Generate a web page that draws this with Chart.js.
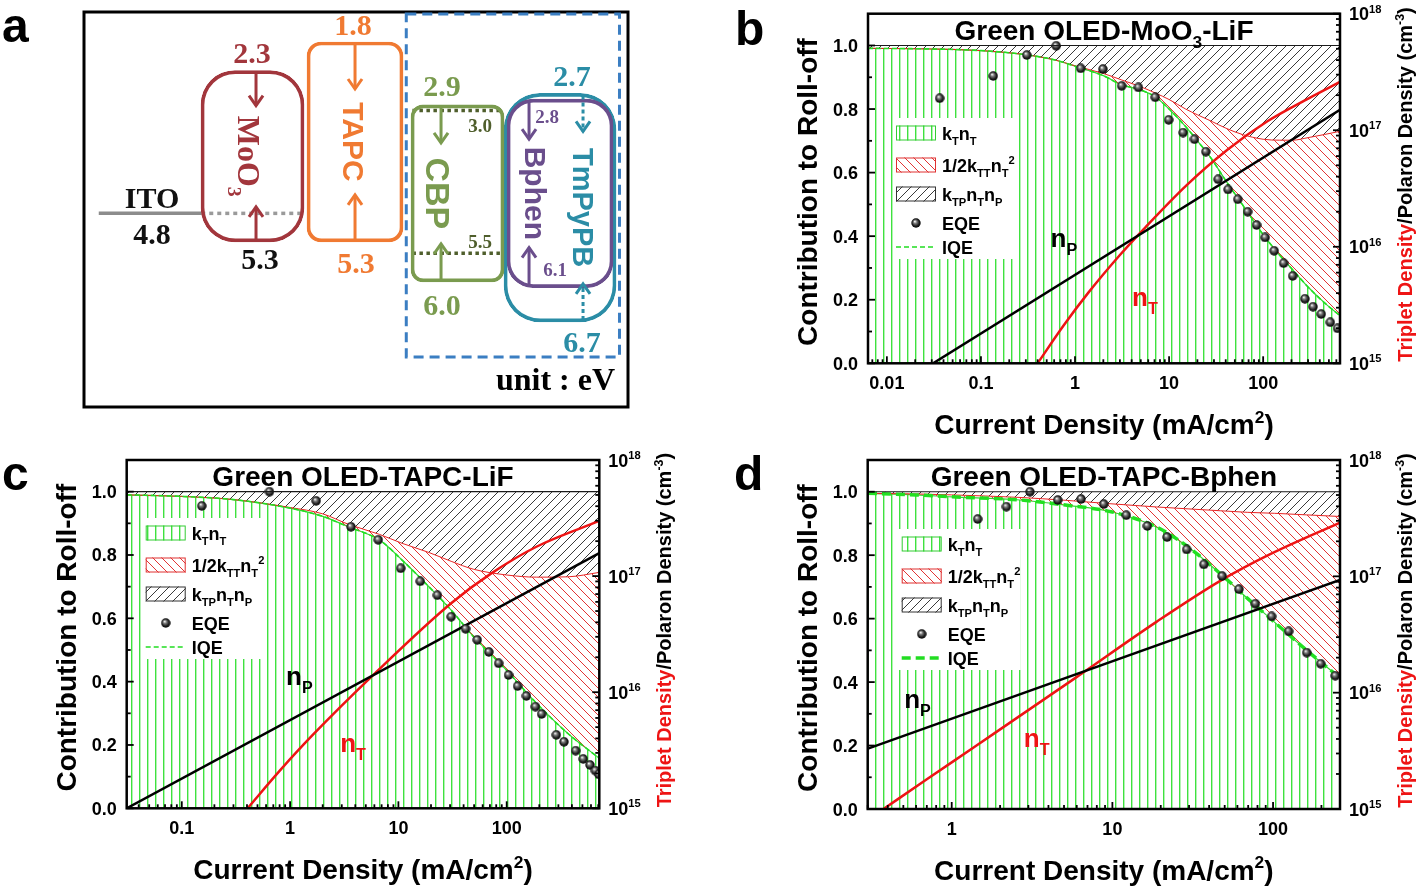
<!DOCTYPE html>
<html>
<head>
<meta charset="utf-8">
<title>Green OLED roll-off</title>
<script src="https://cdn.jsdelivr.net/npm/chart.js@4.4.1/dist/chart.umd.min.js"></script>
<style>
  html, body { margin: 0; padding: 0; background: #fff; }
  body { position: relative; width: 1418px; height: 888px; overflow: hidden; }
  canvas { position: absolute; left: 0; top: 0; }
</style>
</head>
<body>
<canvas id="chartA" width="1418" height="888"></canvas>
<canvas id="chartB" width="1418" height="888"></canvas>
<canvas id="chartC" width="1418" height="888"></canvas>
<canvas id="chartD" width="1418" height="888"></canvas>
<script>
/* Panel a : energy levels (eV) */
const aLayers = ['ITO', 'MoO_{3}', 'TAPC', 'CBP', 'Bphen', 'TmPyPB']
const aSlot = [0, 1, 2, 3, 4, 4]
const aLumo = [null, 2.3, 1.8, 2.9, 2.8, 2.7]
const aHomo = [4.8, 5.3, 5.3, 6.0, 6.1, 6.7]
const aDopant = [3.0, 5.5]

/* Panel b : Green OLED-MoO3-LiF */
const bJ = [0.0063, 0.03, 0.1, 0.3, 0.6, 1, 2, 3.1, 5, 7.2, 10, 15, 20, 28, 40, 60, 100, 150, 205, 300, 450, 656]
const bKT = [0.991, 0.989, 0.984, 0.971, 0.955, 0.935, 0.905, 0.877, 0.86, 0.838, 0.80, 0.745, 0.70, 0.645, 0.575, 0.50, 0.405, 0.34, 0.295, 0.24, 0.19, 0.15]
const bTT = [0.991, 0.989, 0.984, 0.971, 0.955, 0.936, 0.912, 0.892, 0.870, 0.850, 0.830, 0.800, 0.782, 0.762, 0.740, 0.720, 0.705, 0.702, 0.702, 0.710, 0.720, 0.730]
const bEqeJ = [0.0364, 0.135, 0.307, 0.631, 1.15, 1.98, 3.13, 4.72, 7.12, 9.9, 14.1, 18.6, 24.6, 33.2, 42.3, 53.7, 68.4, 85.2, 105, 131, 165, 206, 278, 339, 414, 517, 618]
const bEqe = [0.834, 0.904, 0.970, 0.999, 0.928, 0.926, 0.873, 0.868, 0.837, 0.766, 0.726, 0.705, 0.666, 0.579, 0.547, 0.516, 0.477, 0.435, 0.396, 0.354, 0.315, 0.275, 0.203, 0.178, 0.155, 0.129, 0.110]
const bNpJ = [0.031, 656]
const bNp = [1e15, 1.5e17]
const bNtJ = [0.40, 0.756, 1.38, 3.0, 5.6, 15.2, 41.7, 112, 305, 656]
const bNt = [1e15, 2.11e15, 4.02e15, 8.5e15, 1.47e16, 3.35e16, 6.8e16, 1.2e17, 1.88e17, 2.6e17]

/* Panel c : Green OLED-TAPC-LiF */
const cJ = [0.031, 0.1, 0.3, 1, 2, 3.45, 6.7, 10.8, 19.1, 30.7, 49.4, 99, 188, 365, 716]
const cKT = [0.99, 0.985, 0.975, 0.948, 0.922, 0.889, 0.847, 0.784, 0.70, 0.626, 0.542, 0.437, 0.332, 0.237, 0.158]
const cTT = [0.99, 0.985, 0.975, 0.950, 0.930, 0.897, 0.865, 0.837, 0.808, 0.780, 0.755, 0.737, 0.730, 0.731, 0.745]
const cEqeJ = [0.153, 0.645, 1.74, 3.65, 6.51, 10.5, 15.9, 22.9, 30.7, 41.7, 53.4, 68.4, 84.3, 104, 126, 152, 184, 210, 287, 338, 433, 509, 587, 658, 710]
const cEqe = [0.955, 1.0, 0.971, 0.889, 0.848, 0.758, 0.717, 0.673, 0.605, 0.567, 0.532, 0.494, 0.458, 0.421, 0.386, 0.355, 0.321, 0.298, 0.232, 0.210, 0.182, 0.156, 0.137, 0.119, 0.107]
const cNpJ = [0.031, 716]
const cNp = [1e15, 1.58e17]
const cNtJ = [0.405, 0.8, 1.61, 6.1, 30.7, 72.6, 188, 716]
const cNt = [1e15, 2.1e15, 4.26e15, 1.46e16, 5.84e16, 1.06e17, 1.79e17, 2.99e17]

/* Panel d : Green OLED-TAPC-Bphen */
const dJ = [0.301, 0.6, 1, 2.66, 5.1, 9.8, 18.8, 29.6, 46.9, 69.6, 102, 162, 261]
const dKT = [0.995, 0.99, 0.984, 0.974, 0.958, 0.937, 0.889, 0.826, 0.742, 0.663, 0.589, 0.50, 0.413]
const dTT = [0.995, 0.993, 0.990, 0.982, 0.973, 0.962, 0.952, 0.946, 0.940, 0.935, 0.932, 0.927, 0.922]
const dEqeJ = [1.45, 2.19, 3.07, 4.57, 6.38, 8.84, 12.2, 16.5, 21.9, 29, 37.1, 48.2, 61.3, 77.6, 98, 125, 162, 198, 244]
const dEqe = [0.914, 0.953, 1.0, 0.974, 0.977, 0.961, 0.926, 0.892, 0.857, 0.818, 0.771, 0.734, 0.693, 0.647, 0.607, 0.56, 0.493, 0.458, 0.42]
const dNpJ = [0.301, 261]
const dNp = [3.3e15, 9.3e16]
const dNtJ = [0.376, 0.7, 1.39, 5.8, 18.8, 46.9, 96, 261]
const dNt = [1e15, 1.8e15, 3.43e15, 1.32e16, 4.06e16, 9.14e16, 1.55e17, 2.9e17]

/* Ticks and legend */
const yTicks = [0, 0.2, 0.4, 0.6, 0.8, 1.0]
const yMinor = [0.1, 0.3, 0.5, 0.7, 0.9]
const densTicks = [1e15, 1e16, 1e17, 1e18]
const bXTicks = [0.01, 0.1, 1, 10, 100]
const cXTicks = [0.1, 1, 10, 100]
const dXTicks = [1, 10, 100]
const legendLabels = ['k_{T}n_{T}', '1/2k_{TT}n_{T}^{2}', 'k_{TP}n_{T}n_{P}', 'EQE', 'IQE']

const SANS = '"Liberation Sans", Arial, sans-serif'
const SERIF = '"Liberation Serif", "Times New Roman", serif'
const RED = '#ee1414'
Chart.defaults.font.family = SANS

/* Helpers */
const seg = (ctx, x0, y0, x1, y1) => { ctx.beginPath(); ctx.moveTo(x0, y0); ctx.lineTo(x1, y1); ctx.stroke() }
const rotated = (ctx, cx, cy, angle, draw) => { ctx.save(); ctx.translate(cx, cy); ctx.rotate(angle); draw(); ctx.restore() }
const pts = (xs, ys) => xs.map((x, i) => ({ x, y: ys[i] }))

const logSteps = (min, max) => {
  const out = []
  for (let e = Math.floor(Math.log10(min)); e <= Math.ceil(Math.log10(max)); e++) {
    for (let m = 1; m <= 9; m++) {
      const v = m * Math.pow(10, e)
      if (v >= min * 0.999 && v <= max * 1.001) out.push([v, m === 1])
    }
  }
  return out
}

/* text with _{sub} and ^{sup} */
const parseRich = str => {
  const parts = []
  let buf = ''
  for (let i = 0; i < str.length; i++) {
    const c = str[i]
    if ((c === '_' || c === '^') && str[i + 1] === '{') {
      if (buf) { parts.push({ t: buf, s: 0 }); buf = '' }
      const end = str.indexOf('}', i)
      parts.push({ t: str.slice(i + 2, end), s: c === '_' ? -1 : 1 })
      i = end
    } else buf += c
  }
  if (buf) parts.push({ t: buf, s: 0 })
  return parts
}

const drawRich = (ctx, segs, x, y, size, opt = {}) => {
  const family = opt.family || SANS
  const small = size * 0.62
  const items = []
  segs.forEach(([str, color]) => parseRich(str).forEach(p => items.push({ ...p, color })))
  let total = 0
  items.forEach(p => {
    ctx.font = `bold ${p.s ? small : size}px ${family}`
    p.w = ctx.measureText(p.t).width
    total += p.w
  })
  let cx = opt.align === 'center' ? x - total / 2 : opt.align === 'right' ? x - total : x
  ctx.textAlign = 'left'
  ctx.textBaseline = 'alphabetic'
  items.forEach(p => {
    ctx.font = `bold ${p.s ? small : size}px ${family}`
    ctx.fillStyle = p.color
    const dy = p.s < 0 ? size * 0.3 : p.s > 0 ? -size * 0.42 : 0
    ctx.fillText(p.t, cx, y + dy)
    cx += p.w
  })
}

const makePattern = (ctx, kind, color, size, lw) => {
  const c = document.createElement('canvas')
  c.width = size; c.height = size
  const g = c.getContext('2d')
  if (kind === 'v') {
    g.fillStyle = color; g.fillRect(3, 0, 1, size)
    g.fillStyle = '#b2f2b2'; g.fillRect(4, 0, 1, size)
    return ctx.createPattern(c, 'repeat')
  }
  g.strokeStyle = color; g.lineWidth = lw
  g.beginPath()
  if (kind === 'back') {
    g.moveTo(-1, -1); g.lineTo(size + 1, size + 1)
    g.moveTo(-1, size - 1); g.lineTo(1, size + 1)
    g.moveTo(size - 1, -1); g.lineTo(size + 1, 1)
  } else {
    g.moveTo(-1, size + 1); g.lineTo(size + 1, -1)
    g.moveTo(-1, 1); g.lineTo(1, -1)
    g.moveTo(size - 1, size + 1); g.lineTo(size + 1, size - 1)
  }
  g.stroke()
  return ctx.createPattern(c, 'repeat')
}

const makeSphere = d => {
  const c = document.createElement('canvas')
  c.width = d; c.height = d
  const g = c.getContext('2d')
  const grad = g.createRadialGradient(d * 0.38, d * 0.34, 0.3, d / 2, d / 2, d / 2)
  grad.addColorStop(0, '#f2f2f2')
  grad.addColorStop(0.3, '#7a7a7a')
  grad.addColorStop(0.7, '#1c1c1c')
  grad.addColorStop(1, '#000')
  g.fillStyle = grad
  g.beginPath(); g.arc(d / 2, d / 2, d / 2 - 0.3, 0, Math.PI * 2); g.fill()
  return c
}

/* Legend inside plot */
const drawLegend = (ctx, lx, ly, pats, p) => {
  ctx.fillStyle = '#fff'
  ctx.fillRect(lx, ly, 122, 141)
  const rows = [15, 47, 76, 105, 129].map(r => ly + r)
  const sx = lx + 3, sw = 40, sh = 15
  const boxes = [[pats.stripes, '#33cc33'], [pats.redHatch, '#e03030'], [pats.blackHatch, '#333']]
  boxes.forEach(([pat, col], i) => {
    ctx.fillStyle = pat
    ctx.fillRect(sx, rows[i] - sh / 2, sw, sh)
    ctx.strokeStyle = col; ctx.lineWidth = 1
    ctx.strokeRect(sx + 0.5, rows[i] - sh / 2 + 0.5, sw - 1, sh - 1)
  })
  ctx.drawImage(pats.sphere, sx + 20 - pats.sphere.width / 2, rows[3] - pats.sphere.height / 2)
  ctx.strokeStyle = '#22dd22'; ctx.lineWidth = p.iqeW; ctx.setLineDash(p.iqeDash)
  seg(ctx, sx, rows[4], sx + sw, rows[4])
  ctx.setLineDash([])
  legendLabels.forEach((t, i) => drawRich(ctx, [[t, '#000']], lx + 49, rows[i] + 6.5, 18))
}

/* Axes, titles and notes for panels b, c, d */
const makeDecor = (p, pats) => ({
  id: 'decor',
  afterDatasetsDraw(chart) {
    const { ctx, chartArea: a } = chart
    const { x, y, y2 } = chart.scales
    ctx.save()

    const yOne = y.getPixelForValue(1)
    ctx.strokeStyle = '#1a1a1a'; ctx.lineWidth = 1.2
    seg(ctx, a.left, yOne, a.right, yOne)

    drawLegend(ctx, a.left + p.legendDx, p.legendTop, pats, p)

    p.notes.forEach(n => drawRich(ctx, [[n.text, n.color]], x.getPixelForValue(n.x), y.getPixelForValue(n.y), 26))

    ctx.strokeStyle = '#000'; ctx.lineWidth = 2.5
    ctx.strokeRect(a.left, a.top, a.right - a.left, a.bottom - a.top)
    ctx.lineWidth = 1.8
    yTicks.forEach(v => { const py = y.getPixelForValue(v); seg(ctx, a.left, py, a.left + 7, py) })
    yMinor.forEach(v => { const py = y.getPixelForValue(v); seg(ctx, a.left, py, a.left + 4, py) })
    logSteps(x.min, x.max).forEach(([v, major]) => {
      const px = x.getPixelForValue(v)
      seg(ctx, px, a.bottom, px, a.bottom - (major ? 7 : 4))
    })
    logSteps(y2.min, y2.max).forEach(([v, major]) => {
      const py = y2.getPixelForValue(v)
      seg(ctx, a.right, py, a.right - (major ? 7 : 4), py)
    })

    yTicks.forEach(v => drawRich(ctx, [[v.toFixed(1), '#000']], a.left - 10, y.getPixelForValue(v) + 6.5, 18, { align: 'right' }))
    p.xTicks.forEach(v => drawRich(ctx, [[String(v), '#000']], x.getPixelForValue(v), a.bottom + 26, 18, { align: 'center' }))
    densTicks.forEach(v => drawRich(ctx, [['10^{' + Math.round(Math.log10(v)) + '}', '#000']], a.right + 9, y2.getPixelForValue(v) + 6.5, 18))

    const midX = (a.left + a.right) / 2, midY = (a.top + a.bottom) / 2
    drawRich(ctx, [[p.title, '#000']], midX, (a.top + yOne) / 2 + 10, 28, { align: 'center' })
    drawRich(ctx, [['Current Density (mA/cm^{2})', '#000']], midX, a.bottom + 71, 28, { align: 'center' })
    rotated(ctx, a.left - 61, midY + 3.5, -Math.PI / 2, () =>
      drawRich(ctx, [['Contribution to Roll-off', '#000']], 0, 10, 28, { align: 'center' }))
    rotated(ctx, a.right + 65, midY - 4, -Math.PI / 2, () =>
      drawRich(ctx, [['Triplet Density', RED], ['/Polaron Density (cm^{-3})', '#000']], 0, 7, 20, { align: 'center' }))

    drawRich(ctx, [[p.letter, '#000']], p.letterPos[0], p.letterPos[1], 48)
    ctx.restore()
  }
})

const plotPanel = (id, p) => {
  const canvas = document.getElementById(id)
  const ctx = canvas.getContext('2d')
  const pats = {
    stripes: makePattern(ctx, 'v', '#3ee23e', 8, 1),
    redHatch: makePattern(ctx, 'back', '#e23434', 9, 1),
    blackHatch: makePattern(ctx, 'fwd', '#3a3a3a', 9, 1),
    sphere: makeSphere(10)
  }
  return new Chart(ctx, {
    type: 'line',
    data: {
      datasets: [
        { label: 'kTnT', data: pts(p.J, p.kT), borderColor: '#33d633', borderWidth: 1.2, pointRadius: 0,
          cubicInterpolationMode: 'monotone', fill: 'origin', backgroundColor: pats.stripes, order: 6 },
        { label: 'kTT', data: pts(p.J, p.tt), borderColor: '#e82222', borderWidth: 1, pointRadius: 0,
          cubicInterpolationMode: 'monotone', fill: { target: { value: 1 }, above: pats.blackHatch, below: pats.blackHatch }, order: 5 },
        { label: 'IQE', data: pts(p.J, p.kT), borderColor: '#22e022', borderWidth: p.iqeW, borderDash: p.iqeDash, pointRadius: 0,
          cubicInterpolationMode: 'monotone', fill: { target: 1, above: pats.redHatch, below: pats.redHatch }, order: 4 },
        { label: 'nP', data: pts(p.npJ, p.np), yAxisID: 'y2', borderColor: '#000', borderWidth: 2.5, pointRadius: 0, fill: false, order: 2 },
        { label: 'nT', data: pts(p.ntJ, p.nt), yAxisID: 'y2', borderColor: RED, borderWidth: 2.5, pointRadius: 0, fill: false,
          cubicInterpolationMode: 'monotone', order: 2 },
        { label: 'EQE', data: pts(p.eqeJ, p.eqe), showLine: false, pointStyle: pats.sphere, pointRadius: 5, fill: false, order: 0 }
      ]
    },
    options: {
      responsive: false,
      animation: false,
      events: [],
      layout: { padding: { left: p.area[0], top: p.area[1], right: 1418 - p.area[2], bottom: 888 - p.area[3] } },
      scales: {
        x: { type: 'logarithmic', min: p.xMin, max: p.xMax, display: false },
        y: { type: 'linear', min: 0, max: 1.1, display: false },
        y2: { type: 'logarithmic', min: 1e15, max: 1e18, display: false, position: 'right' }
      },
      plugins: { legend: { display: false }, tooltip: { enabled: false } }
    },
    plugins: [makeDecor(p, pats)]
  })
}

plotPanel('chartB', {
  letter: 'b', letterPos: [735, 45], title: 'Green OLED-MoO_{3}-LiF',
  area: [868, 13.7, 1340, 363.3], xMin: 0.0063, xMax: 656, xTicks: bXTicks,
  legendDx: 25, legendTop: 118, iqeW: 1.6, iqeDash: [5, 3],
  J: bJ, kT: bKT, tt: bTT, eqeJ: bEqeJ, eqe: bEqe, npJ: bNpJ, np: bNp, ntJ: bNtJ, nt: bNt,
  notes: [{ text: 'n_{P}', x: 0.55, y: 0.366, color: '#000' }, { text: 'n_{T}', x: 4.04, y: 0.18, color: RED }]
})

plotPanel('chartC', {
  letter: 'c', letterPos: [2, 490], title: 'Green OLED-TAPC-LiF',
  area: [126.7, 460, 599.3, 808.3], xMin: 0.031, xMax: 716, xTicks: cXTicks,
  legendDx: 16, legendTop: 518, iqeW: 1.6, iqeDash: [5, 3],
  J: cJ, kT: cKT, tt: cTT, eqeJ: cEqeJ, eqe: cEqe, npJ: cNpJ, np: cNp, ntJ: cNtJ, nt: cNt,
  notes: [{ text: 'n_{P}', x: 0.918, y: 0.389, color: '#000' }, { text: 'n_{T}', x: 2.9, y: 0.178, color: RED }]
})

plotPanel('chartD', {
  letter: 'd', letterPos: [734, 490], title: 'Green OLED-TAPC-Bphen',
  area: [867.7, 460, 1340, 809], xMin: 0.301, xMax: 261, xTicks: dXTicks,
  legendDx: 31, legendTop: 529, iqeW: 3.5, iqeDash: [9, 5],
  J: dJ, kT: dKT, tt: dTT, eqeJ: dEqeJ, eqe: dEqe, npJ: dNpJ, np: dNp, ntJ: dNtJ, nt: dNt,
  notes: [{ text: 'n_{P}', x: 0.506, y: 0.318, color: '#000' }, { text: 'n_{T}', x: 2.81, y: 0.195, color: RED }]
})

/* Panel a : boxes as floating bars on an energy axis */
const aStyle = {
  color: ['#222', '#a2363c', '#f07a32', '#7a9b4f', '#6a4e8c', '#2b8da6'],
  boxW: [0, 103, 96, 93, 106, 112],
  radius: [0, 34, 14, 12, 26, 36],
  arrowDx: [0, 3.5, 0, -16.5, -31, 23],
  arrowLen: [0, 35, 47, 38, 40, 38],
  nameDx: [0, -3, -1, -19.5, -24, 23],
  nameSize: [0, 32, 30, 34, 30, 29],
  lumoDx: [0, -0.5, -2, -15.5, -13, 12],
  lumoDy: [0, -18, -17, -19, 17, -18],
  homoDx: [2, 7.5, 1, -15.5, -5, 22],
  homoDy: [20, 17, 21, 23, -18, 20],
  small: [false, false, false, false, true, false]
}
const homoColor = ['#111', '#111', aStyle.color[2], aStyle.color[3], aStyle.color[4], aStyle.color[5]]

const drawArrow = (ctx, x, y0, y1, color, dashed) => {
  ctx.strokeStyle = color; ctx.lineWidth = 3
  ctx.setLineDash(dashed ? [4, 3] : [])
  seg(ctx, x, y0, x, y1)
  ctx.setLineDash([])
  const d = y1 > y0 ? 1 : -1
  ctx.beginPath(); ctx.moveTo(x - 7, y1 - 10 * d); ctx.lineTo(x, y1); ctx.lineTo(x + 7, y1 - 10 * d); ctx.stroke()
}

const levelText = (ctx, txt, x, y, color, small) => {
  const size = small ? 19 : 30
  drawRich(ctx, [[txt, color]], x, y + size * 0.34, size, { align: 'center', family: SERIF })
}

const decorA = {
  id: 'decorA',
  afterDatasetsDraw(chart) {
    const { ctx, chartArea: a } = chart
    const { x, y } = chart.scales
    ctx.save()
    ctx.strokeStyle = '#000'; ctx.lineWidth = 3
    ctx.strokeRect(a.left, a.top, a.right - a.left, a.bottom - a.top)

    /* dashed frame round the emitting / transport layers */
    const bx0 = x.getPixelForValue(2.5), bx1 = x.getPixelForValue(4.58)
    const by1 = y.getPixelForValue(aHomo[5]) + 35
    ctx.strokeStyle = '#3b7ec2'; ctx.lineWidth = 3; ctx.setLineDash([10, 6])
    ctx.strokeRect(bx0, a.top + 2, bx1 - bx0, by1 - a.top - 2)
    ctx.setLineDash([])

    aLayers.forEach((name, i) => {
      const cx = x.getPixelForValue(aSlot[i])
      const yH = y.getPixelForValue(aHomo[i])
      const col = aStyle.color[i]
      if (aLumo[i] == null) {
        levelText(ctx, 'ITO', cx + 2, yH - 16, '#111', false)
        levelText(ctx, aHomo[i].toFixed(1), cx + aStyle.homoDx[i], yH + aStyle.homoDy[i], homoColor[i], false)
        return
      }
      const yL = y.getPixelForValue(aLumo[i])
      const ax = cx + aStyle.arrowDx[i]
      const dashed = name === 'TmPyPB'
      drawArrow(ctx, ax, yL + 2, yL + aStyle.arrowLen[i], col, dashed)
      drawArrow(ctx, ax, yH - 2, yH - aStyle.arrowLen[i], col, dashed)
      levelText(ctx, aLumo[i].toFixed(1), cx + aStyle.lumoDx[i], yL + aStyle.lumoDy[i], col, aStyle.small[i])
      levelText(ctx, aHomo[i].toFixed(1), cx + aStyle.homoDx[i], yH + aStyle.homoDy[i], homoColor[i], aStyle.small[i])
      const size = aStyle.nameSize[i]
      rotated(ctx, cx + aStyle.nameDx[i], (yL + yH) / 2, Math.PI / 2, () =>
        drawRich(ctx, [[name, col]], 0, size * 0.36, size, { align: 'center', family: i === 1 ? SERIF : SANS }))
    })

    /* dopant levels inside CBP */
    const cbpX = x.getPixelForValue(aSlot[3]) + 22.5
    levelText(ctx, aDopant[0].toFixed(1), cbpX, y.getPixelForValue(aDopant[0]) + 15, '#4f5e2c', true)
    levelText(ctx, aDopant[1].toFixed(1), cbpX, y.getPixelForValue(aDopant[1]) - 12, '#4f5e2c', true)

    drawRich(ctx, [['unit : eV', '#000']], a.right - 13, a.bottom - 17, 32, { align: 'right', family: SERIF })
    drawRich(ctx, [['a', '#000']], 2, 42, 48)
    ctx.restore()
  }
}

const boxSets = aLayers.map((name, i) => aLumo[i] == null ? null : {
  type: 'bar', label: name, data: [{ x: aSlot[i], y: [aLumo[i], aHomo[i]] }],
  backgroundColor: 'rgba(0,0,0,0)', borderColor: aStyle.color[i], borderWidth: 3,
  borderRadius: aStyle.radius[i], borderSkipped: false, barThickness: aStyle.boxW[i], grouped: false
}).filter(Boolean)

const levelLine = (x0, x1, e, color, dash) => ({
  type: 'line', data: [{ x: x0, y: e }, { x: x1, y: e }], borderColor: color, borderWidth: 3.5,
  borderDash: dash, pointRadius: 0, fill: false
})

new Chart(document.getElementById('chartA'), {
  type: 'bar',
  data: {
    datasets: [
      ...boxSets,
      levelLine(aSlot[0] - 0.5, aSlot[0] + 0.5, aHomo[0], '#8c8c8c', []),
      levelLine(aSlot[0] + 0.5, aSlot[1] + 0.5, aHomo[0], '#9a9a9a', [4, 4]),
      ...aDopant.map(e => levelLine(aSlot[3] - 0.44, aSlot[3] + 0.44, e, '#4f5e2c', [3.5, 3.5]))
    ]
  },
  options: {
    responsive: false,
    animation: false,
    events: [],
    layout: { padding: { left: 84, top: 12, right: 1418 - 628, bottom: 888 - 407 } },
    scales: {
      x: { type: 'linear', min: -0.644, max: 4.663, offset: false, display: false },
      y: { type: 'linear', min: 1.275, max: 8.19, reverse: true, display: false }
    },
    plugins: { legend: { display: false }, tooltip: { enabled: false } }
  },
  plugins: [decorA]
})
</script>
</body>
</html>
